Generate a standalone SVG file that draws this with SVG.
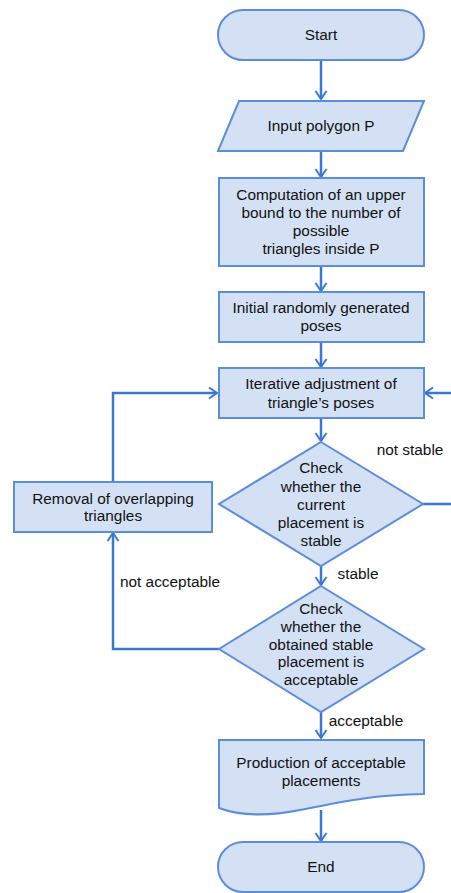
<svg xmlns="http://www.w3.org/2000/svg" width="451" height="893" viewBox="0 0 451 893">
<defs>
<marker id="arr" markerUnits="userSpaceOnUse" markerWidth="14" markerHeight="14" viewBox="-10 -7 12 14" refX="0" refY="0" orient="auto">
<path d="M-8,-5.5 L0,0 L-8,5.5" fill="none" stroke="#3a77d5" stroke-width="2"/>
</marker>
</defs>
<style>
.n{fill:#d4e1f5;stroke:#5a8edc;stroke-width:2}
.t{font-family:"Liberation Sans",Arial,sans-serif;font-size:15.4px;fill:#111;text-anchor:middle}
.e{fill:none;stroke:#3a77d5;stroke-width:2.5;marker-end:url(#arr)}
.l{fill:none;stroke:#3a77d5;stroke-width:2.5}
</style>
<rect width="451" height="893" fill="#fff"/>
<g id="connectors">
<path class="e" d="M321,61 V99"/>
<path class="e" d="M321,151 V177"/>
<path class="e" d="M321,267 V291"/>
<path class="e" d="M321,342 V367"/>
<path class="e" d="M321,418 V441"/>
<path class="e" d="M321,566 V585"/>
<path class="e" d="M321,712 V738"/>
<path class="e" d="M321,810 V841"/>
<path class="e" d="M113,482 V393 H217"/>
<path class="l" d="M423,504 H460"/>
<path class="e" d="M460,393 H425"/>
<path class="e" d="M219,649 H113 V533"/>
<text class="t" x="410" y="455">not stable</text>
<text class="t" x="358" y="579">stable</text>
<text class="t" x="170" y="587">not acceptable</text>
<text class="t" x="366" y="726">acceptable</text>
</g>
<g id="start">
<rect class="n" x="218" y="10" width="206" height="50" rx="25"/>
<text class="t" x="321" y="40">Start</text>
</g>
<g id="input">
<path class="n" d="M239,101 H424 L403,151 H218 Z"/>
<text class="t" x="321" y="131">Input polygon P</text>
</g>
<g id="bound">
<rect class="n" x="219" y="178" width="205" height="88"/>
<text class="t" x="321" y="200">Computation of an upper</text>
<text class="t" x="321" y="218">bound to the number of</text>
<text class="t" x="321" y="236">possible</text>
<text class="t" x="321" y="254">triangles inside P</text>
</g>
<g id="initial">
<rect class="n" x="219" y="292" width="205" height="50"/>
<text class="t" x="321" y="313">Initial randomly generated</text>
<text class="t" x="321" y="331">poses</text>
</g>
<g id="iterative">
<rect class="n" x="219" y="368" width="205" height="50"/>
<text class="t" x="321" y="389">Iterative adjustment of</text>
<text class="t" x="321" y="408">triangle’s poses</text>
</g>
<g id="check1">
<path class="n" d="M321,442 L423,504 L321,566 L219,504 Z"/>
<text class="t" x="321" y="473">Check</text>
<text class="t" x="321" y="492">whether the</text>
<text class="t" x="321" y="510">current</text>
<text class="t" x="321" y="528">placement is</text>
<text class="t" x="321" y="546">stable</text>
</g>
<g id="removal">
<rect class="n" x="14" y="482" width="198" height="50"/>
<text class="t" x="113" y="504">Removal of overlapping</text>
<text class="t" x="113" y="521">triangles</text>
</g>
<g id="check2">
<path class="n" d="M321,586 L424,649 L321,712 L219,649 Z"/>
<text class="t" x="321" y="614">Check</text>
<text class="t" x="321" y="632">whether the</text>
<text class="t" x="321" y="650">obtained stable</text>
<text class="t" x="321" y="667">placement is</text>
<text class="t" x="321" y="685">acceptable</text>
</g>
<g id="production">
<path class="n" d="M219,740 H424 V794 C370,795 340,802 300,810 C270,816 240,816 219,808 Z"/>
<text class="t" x="321" y="768">Production of acceptable</text>
<text class="t" x="321" y="786">placements</text>
</g>
<g id="end">
<rect class="n" x="218" y="842" width="206" height="50" rx="25"/>
<text class="t" x="321" y="872">End</text>
</g>
</svg>
